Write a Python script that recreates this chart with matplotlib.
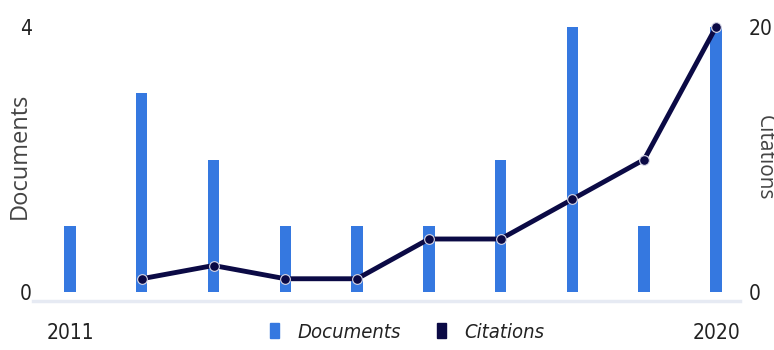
import matplotlib
matplotlib.use("Agg")
import matplotlib.pyplot as plt
from matplotlib.patches import Patch
from matplotlib import font_manager as fm

years = [2011, 2012, 2013, 2014, 2015, 2016, 2017, 2018, 2019, 2020]
documents = [1, 3, 2, 1, 1, 1, 2, 4, 1, 4]
cit_years = [2012, 2013, 2014, 2015, 2016, 2017, 2018, 2019, 2020]
citations = [1, 2, 1, 1, 4, 4, 7, 10, 20]

bar_color = "#3578e0"
line_color = "#0b0a45"

names = {f.name for f in fm.fontManager.ttflist}
cond = [f for f in fm.fontManager.ttflist if "condensed" in str(f.stretch).lower() or "Condensed" in f.fname]
if "Liberation Sans Narrow" in names:
    narrow = dict(family=["Liberation Sans Narrow", "DejaVu Sans"])
elif cond:
    narrow = dict(family=[cond[0].name, "DejaVu Sans"], stretch="condensed")
else:
    narrow = dict(family=["Lato", "DejaVu Sans"])

fig = plt.figure(figsize=(7.74, 3.5), dpi=100)
ax = fig.add_axes([33/774, 58/350, 707/774, 272/350])
ax2 = ax.twinx()

ax.bar(years, documents, width=0.16, color=bar_color, zorder=2)
ax.set_xlim(2010.485, 2020.334)
ax.set_ylim(0, 4 * 272/265)
ax2.set_ylim(0, 20 * 272/265)
ax2.plot(cit_years, citations, color=line_color, lw=3.5, marker="o", ms=7,
         mfc=line_color, mec="#d8d8e8", mew=0.8, zorder=3, solid_capstyle="round")

for a in (ax, ax2):
    for s in ("top", "left", "right", "bottom"):
        a.spines[s].set_visible(False)
    a.tick_params(length=0)

ax.axhline(-0.13, color="#e6eaf3", lw=2.5, clip_on=False, zorder=1)

tick_font = dict(size=15, color="#222222", **narrow)
ax.set_yticks([0, 4])
ax.set_yticklabels(["0", "4"], fontdict=tick_font)
ax2.set_yticks([0, 20])
ax2.set_yticklabels(["0", "20"], fontdict=tick_font)
ax.tick_params(axis="y", pad=1)
ax2.tick_params(axis="y", pad=6)
ax.set_xticks([2011, 2020])
ax.set_xticklabels(["2011", "2020"], fontdict=tick_font)
ax.tick_params(axis="x", pad=22)

fig.text(20/774, 1 - 156/350, "Documents", rotation=90, ha="center", va="center",
         fontsize=17, family=["Open Sans", "DejaVu Sans"], color="#444444")
fig.text(764/774, 1 - 158/350, "Citations", rotation=-90, ha="center", va="center",
         fontsize=15, family=["Open Sans", "DejaVu Sans"], color="#444444")

handles = [Patch(color=bar_color, label="Documents"),
           Patch(color=line_color, label="Citations")]
leg_prop = fm.FontProperties(style="italic", size=14.5, **narrow)
leg = fig.legend(handles=handles, loc="center", bbox_to_anchor=(407/774, 1 - 332/350),
                 ncol=2, frameon=False, handlelength=0.45, handleheight=0.8,
                 handletextpad=0.9, columnspacing=1.8, prop=leg_prop)
for t in leg.get_texts():
    t.set_color("#222222")

fig.savefig("out.png", dpi=100)
